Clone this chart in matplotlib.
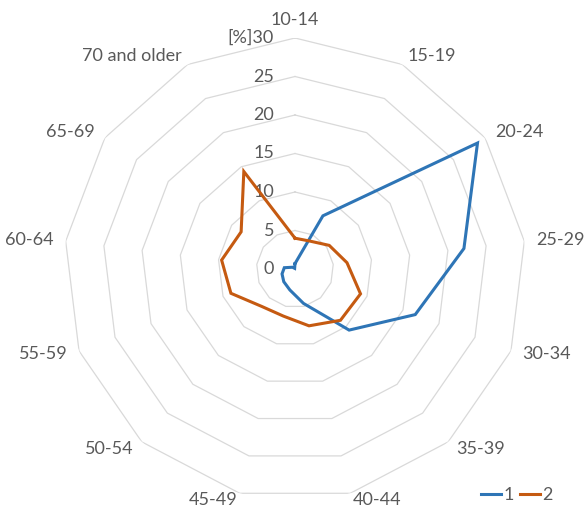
import numpy as np
import matplotlib
matplotlib.use("Agg")
import matplotlib.pyplot as plt
from matplotlib.transforms import offset_copy

# age groups (clockwise from top) and shares in percent
categories = ["10-14", "15-19", "20-24", "25-29", "30-34", "35-39", "40-44",
              "45-49", "50-54", "55-59", "60-64", "65-69", "70 and older"]
series_1 = [0.7, 7.8, 28.8, 22.1, 16.7, 10.6, 4.6, 2.8, 2.2, 1.8, 1.4, 0.4, 0.1]
series_2 = [4.0, 4.1, 5.4, 6.8, 9.1, 8.9, 7.6, 6.3, 6.5, 8.9, 9.6, 8.5, 14.3]
series_names = ["1", "2"]
ring_values = [0, 5, 10, 15, 20, 25, 30]
ring_labels = ["0", "5", "10", "15", "20", "25", "[%]30"]

plt.rcParams['font.family'] = ['Lato', 'DejaVu Sans']
text_color = '#595959'
grid_color = '#D9D9D9'
colors = ['#2E75B6', '#C55A11']

fig = plt.figure(figsize=(5.84, 5.14), dpi=100)
ax = fig.add_axes([64 / 584, 14 / 514, 462 / 584, 462 / 514], projection='polar')
ax.set_theta_zero_location('N')
ax.set_theta_direction(-1)
ax.set_ylim(0, 30)
ax.grid(False)
ax.set_xticks([])
ax.set_yticks([])
ax.spines['polar'].set_visible(False)
ax.patch.set_alpha(0)

n = len(categories)
theta = np.arange(n) * 2 * np.pi / n
theta_closed = np.append(theta, theta[0])

# polygon grid
for r in ring_values[1:]:
    ax.plot(theta_closed, [r] * (n + 1), color=grid_color, lw=0.9, zorder=1)

# data lines
for vals, name, c in zip([series_1, series_2], series_names, colors):
    ax.plot(theta_closed, vals + vals[:1], color=c, lw=2.2, label=name,
            solid_joinstyle='miter', zorder=3)

# radial value labels, left of the top axis
lab_tr = offset_copy(ax.transData, fig=fig, x=-21, y=0, units='dots')
for r, s in zip(ring_values, ring_labels):
    ax.text(0, r, s, transform=lab_tr, ha='right', va='center',
            fontsize=13, color=text_color, zorder=2)

# category labels outside the outer ring
for t, cat in zip(theta, categories):
    s, c = np.sin(t), np.cos(t)
    d = 12
    va = 'center'
    if c > 0.95:
        va = 'bottom'
    elif c < -0.95:
        d = 9
    if s > 0.2:
        ha = 'left'
    elif s < -0.2:
        ha = 'right'
    else:
        ha = 'center'
    tr = offset_copy(ax.transData, fig=fig, x=d * s, y=d * c * 0.8, units='dots')
    ax.text(t, 30, cat, transform=tr, ha=ha, va=va, fontsize=13,
            color=text_color)

leg = fig.legend(loc='center right', bbox_to_anchor=(553 / 584, 19 / 514),
                 ncol=2, frameon=False, fontsize=13, handlelength=1.1,
                 handletextpad=0.15, columnspacing=0.35, borderpad=0,
                 borderaxespad=0)
for t in leg.get_texts():
    t.set_color(text_color)

fig.savefig("out.png", dpi=100)
